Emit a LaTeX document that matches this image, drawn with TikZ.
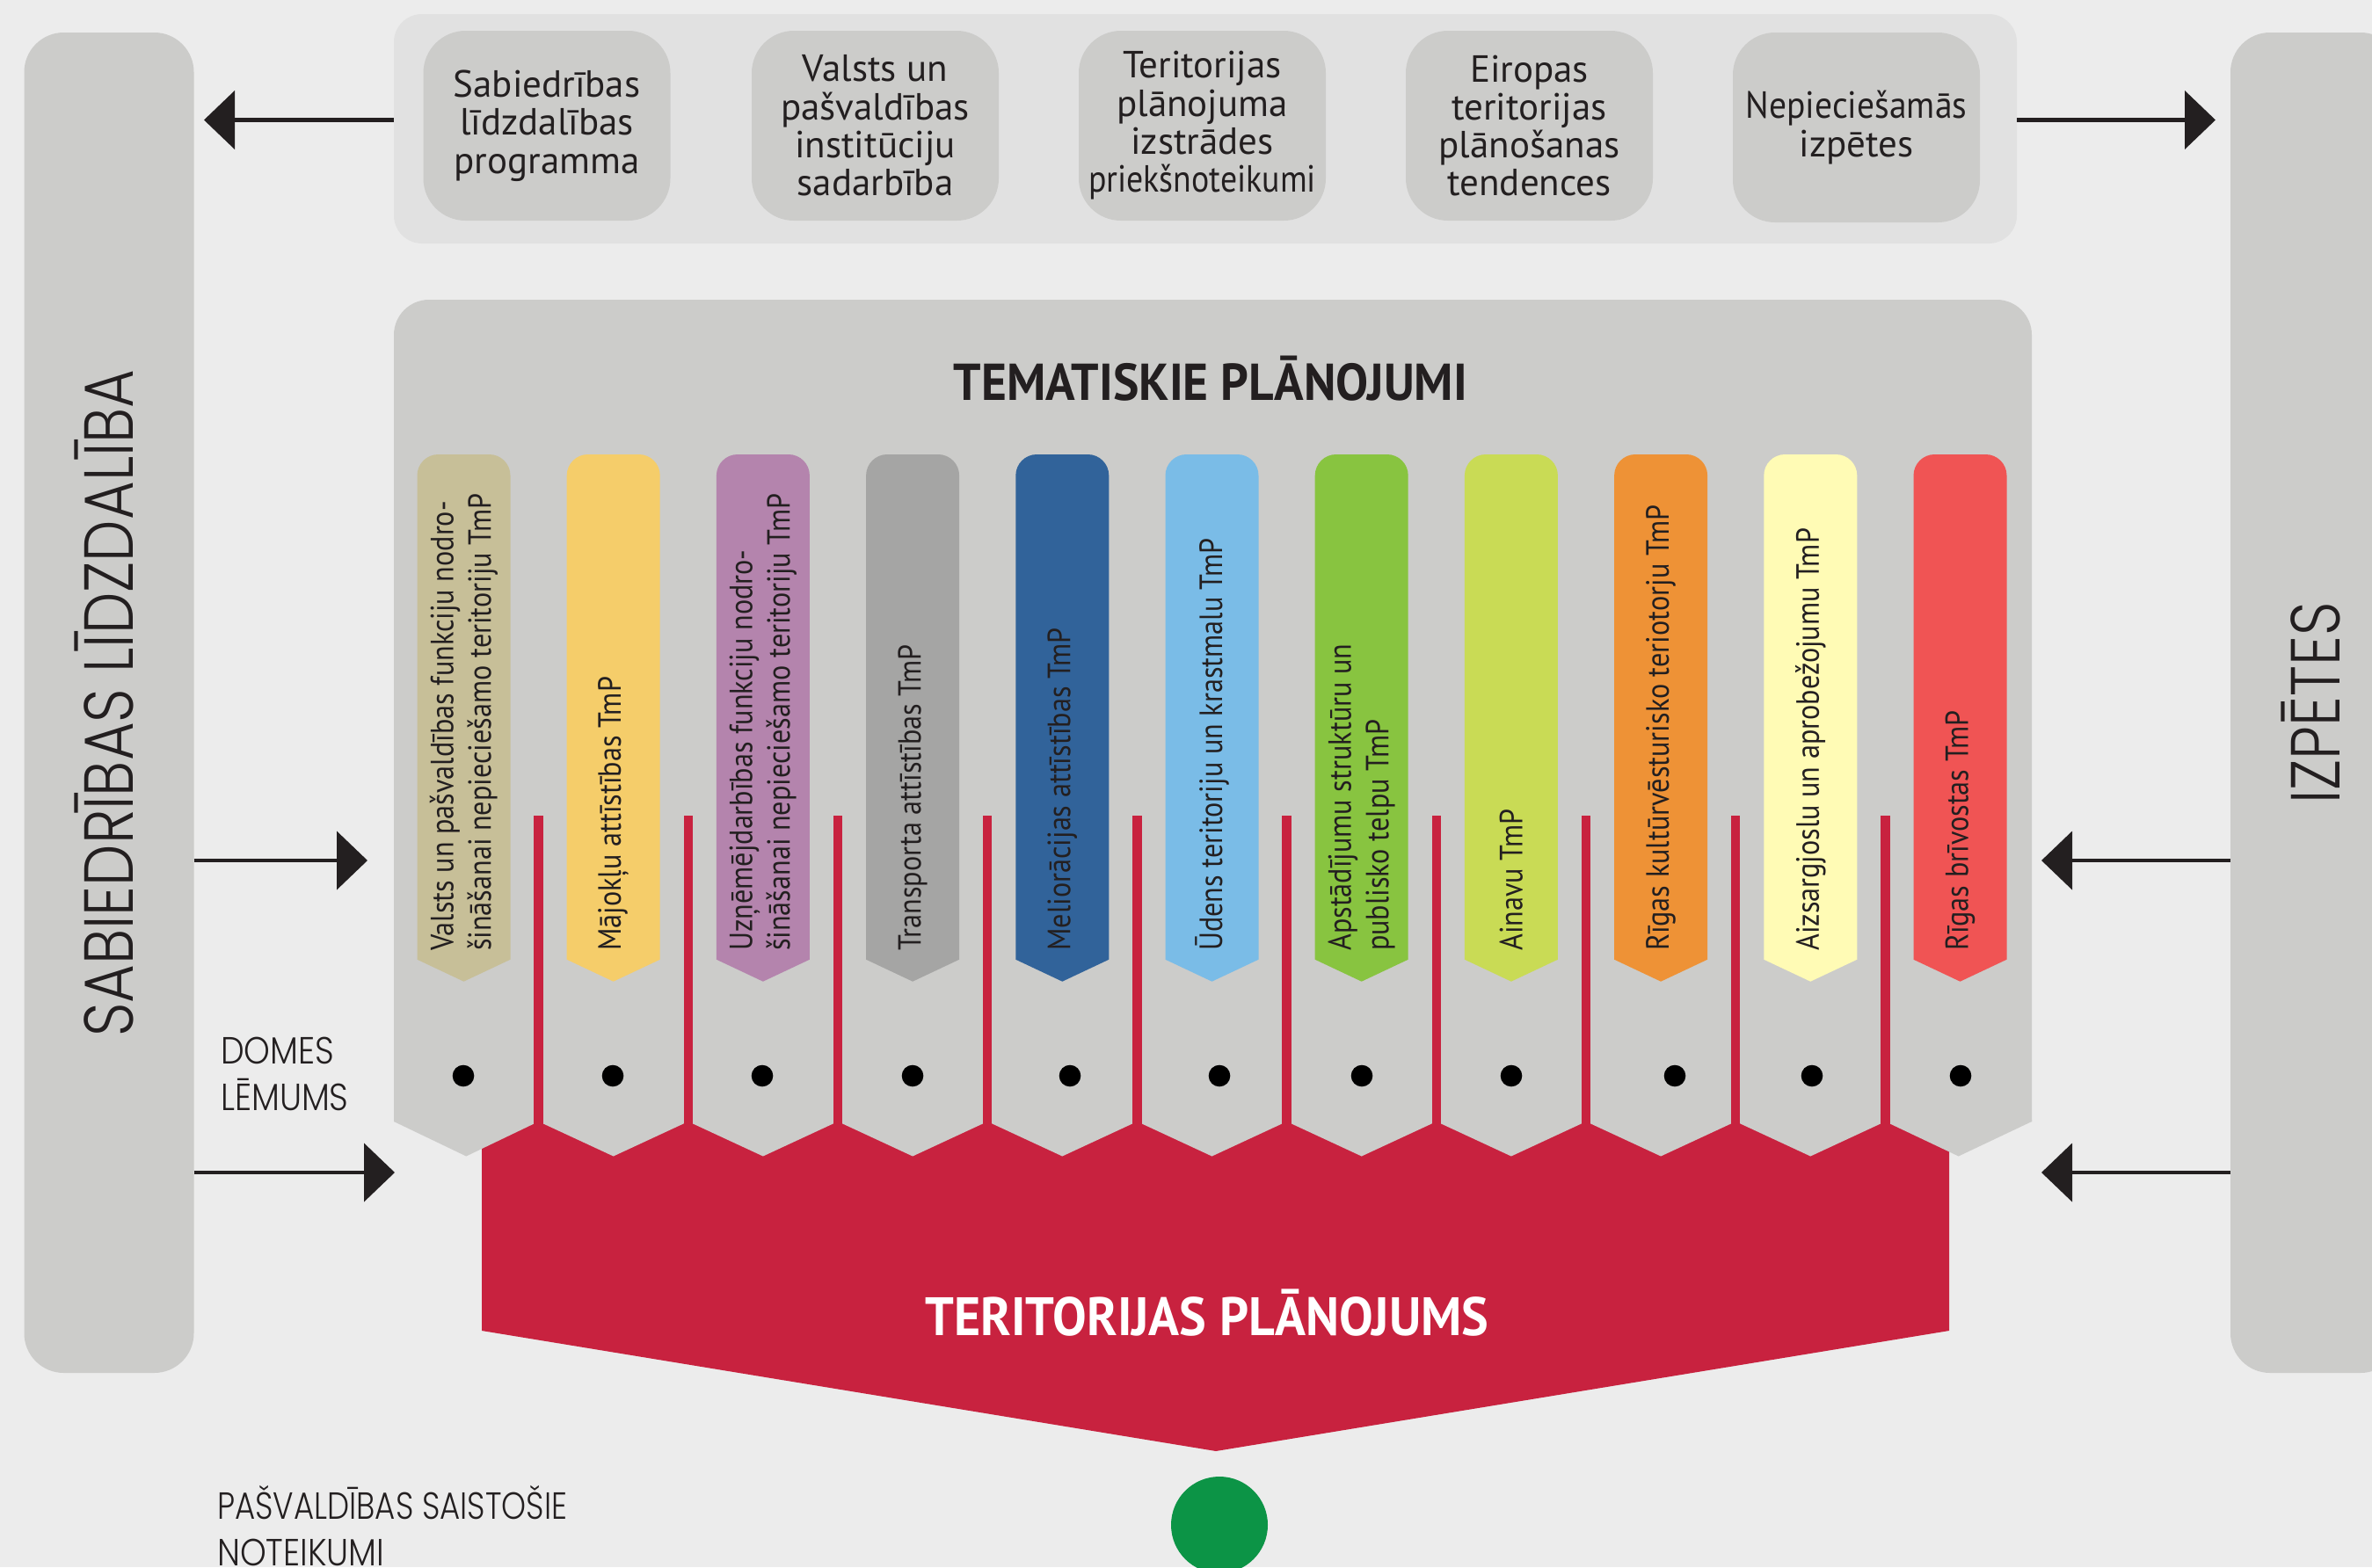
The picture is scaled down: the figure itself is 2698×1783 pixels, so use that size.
\documentclass[tikz,border=0pt]{standalone}
\usepackage{fontspec}
\setmainfont{PT Sans}
\newfontfamily\narrowfont{PT Sans}[FakeStretch=0.88]
\newfontfamily\headfont{PT Sans}[FakeStretch=0.94]
\newfontfamily\thinfont{Poppins Light}[FakeStretch=0.85]
\newfontfamily\smallthinfont{Poppins Light}[FakeStretch=0.88]
\usetikzlibrary{arrows.meta}

\definecolor{bgc}{HTML}{ECECEC}
\definecolor{panc}{HTML}{E1E1E1}
\definecolor{boxc}{HTML}{CCCCCA}
\definecolor{redc}{HTML}{C8223F}
\definecolor{greenc}{HTML}{0C9446}
\definecolor{inkc}{HTML}{231F20}
\definecolor{tabA}{HTML}{C7BF98}
\definecolor{tabB}{HTML}{F5CD6A}
\definecolor{tabC}{HTML}{B484AD}
\definecolor{tabD}{HTML}{A5A5A4}
\definecolor{tabE}{HTML}{31639A}
\definecolor{tabF}{HTML}{7ABCE7}
\definecolor{tabG}{HTML}{88C440}
\definecolor{tabH}{HTML}{C9DB55}
\definecolor{tabI}{HTML}{EE9236}
\definecolor{tabJ}{HTML}{FFFBB5}
\definecolor{tabK}{HTML}{F05454}

\tikzset{
  bar/.style={fill=boxc, rounded corners=45pt, minimum width=193pt, minimum height=1525pt, inner sep=0pt},
  topbox/.style={fill=boxc, rounded corners=48pt, minimum width=281pt, minimum height=216pt, inner sep=0pt,
    align=center, text=inkc, font=\fontsize{43}{43.3}\selectfont},
  tabtext/.style={rotate=90, anchor=west, align=left, inner sep=0pt, text=inkc,
    font=\narrowfont\fontsize{36.6}{42.7}\selectfont},
  biglbl/.style={rotate=90, anchor=base, inner sep=0pt, text=inkc, font=\thinfont\fontsize{79}{79}\selectfont},
  smalllbl/.style={anchor=north west, align=left, inner sep=0pt, text=inkc, font=\smallthinfont\fontsize{43}{53}\selectfont},
  flow/.style={->, line width=4.7pt, draw=inkc},
}

\begin{document}
\begin{tikzpicture}[x=1pt, y=-1pt, >={Triangle[length=35pt,width=66pt]}]
\clip (0,0) rectangle (2698,1783);
\fill[bgc] (0,0) rectangle (2698,1783);

\node[bar] (sab) at (124,799.5) {};
\node[bar] (izp) at (2633.5,799.5) {};
\node[biglbl] (sabtxt) at (151,800) {SABIEDRĪBAS LĪDZDALĪBA};
\node[biglbl] (izptxt) at (2661,800) {IZPĒTES};

\node[fill=panc, rounded corners=32pt, minimum width=1846pt, minimum height=261pt] (pan) at (1371,146.5) {};
\node[topbox] (T1) at (622,143) {Sabiedrības\\līdzdalības\\programma};
\node[topbox] (T2) at (995.5,143) {Valsts un\\pašvaldības\\institūciju\\sadarbība};
\node[topbox] (T3) at (1367.5,143) {Teritorijas\\plānojuma\\izstrādes\\\scalebox{0.88}[1]{priekšnoteikumi}};
\node[topbox] (T4) at (1739.5,143) {Eiropas\\teritorijas\\plānošanas\\tendences};
\node[topbox] (T5) at (2111.5,145) {\scalebox{0.92}[1]{Nepieciešamās}\\izpētes};

\fill[boxc] (448,1276) -- (448,700) [rounded corners=40pt] -- (448,341) -- (2311,341) -- (2311,700) [sharp corners] -- (2311,1276) -- cycle;
\fill[redc] (548,1276) -- (2217,1276) -- (2217,1514) -- (1383,1651) -- (548,1514) -- cycle;

\foreach \col/\txt [count=\n] in {
  tabA/{Valsts un pašvaldības funkciju nodro-\\šināšanai nepieciešamo teritoriju TmP},
  tabB/{Mājokļu attīstības TmP},
  tabC/{Uzņēmējdarbības funkciju nodro-\\šināšanai nepieciešamo teritoriju TmP},
  tabD/{Transporta attīstības TmP},
  tabE/{Meliorācijas attīstības TmP},
  tabF/{Ūdens teritoriju un krastmalu TmP},
  tabG/{Apstādījumu struktūru un\\publisko telpu TmP},
  tabH/{Ainavu TmP},
  tabI/{Rīgas kultūrvēsturisko teriotorju TmP},
  tabJ/{Aizsargjoslu un aprobežojumu TmP},
  tabK/{Rīgas brīvostas TmP}}
{
  \pgfmathsetmacro\cx{527.5+170.2*(\n-1)}
  \pgfmathsetmacro\lx{max(448,\cx-85.1)}
  \pgfmathsetmacro\rx{min(2311,\cx+85.1)}
  \fill[boxc] (\lx,1274) -- (\lx,1276) -- ({(\lx+\rx)/2},1315.5) -- (\rx,1276) -- (\rx,1274) -- cycle;
  \fill[\col] (\cx-53,1091.7) -- (\cx-53,800) [rounded corners=24pt] -- (\cx-53,517) -- (\cx+53,517)
    -- (\cx+53,800) [sharp corners] -- (\cx+53,1091.7) -- (\cx,1116.7) -- cycle;
  \node[tabtext] (tab\n) at (\cx,1082) {\txt};
}

\foreach \n in {1,...,10}
  \fill[redc] ({612.6+170.2*(\n-1)-5.2},928) rectangle ({612.6+170.2*(\n-1)+5.2},1290);

\foreach \x in {527,697,867,1038,1217,1387,1549,1719,1905,2061,2230}
  \fill (\x,1224) circle (12.3pt);

\node[anchor=base, inner sep=0pt, text=inkc, font=\headfont\bfseries\fontsize{59}{59}\selectfont] (tema) at (1377,455) {TEMATISKIE PLĀNOJUMI};
\node[anchor=base, inner sep=0pt, text=white, font=\headfont\bfseries\fontsize{61.5}{61.5}\selectfont] (terpl) at (1373,1519) {TERITORIJAS PLĀNOJUMS};
\fill[greenc] (1387,1735) circle (55pt);

\node[smalllbl] (domes) at (251,1180) {DOMES\\LĒMUMS};
\node[smalllbl] (saist) at (247,1690) {\scalebox{0.94}[1]{PAŠVALDĪBAS SAISTOŠIE}\\NOTEIKUMI};

\coordinate (la1) at (232,136.5);
\coordinate (ra1) at (2520,136.5);
\coordinate (la2) at (418,979);
\coordinate (la3) at (449,1334);
\coordinate (ra2) at (2322,979);
\coordinate (ra3) at (2322,1334);
\draw[flow] (la1 -| pan.west) -- (la1);
\draw[flow] (ra1 -| pan.east) -- (ra1);
\draw[flow] (la2 -| sab.east) -- (la2);
\draw[flow] (la3 -| sab.east) -- (la3);
\draw[flow] (ra2 -| izp.west) -- (ra2);
\draw[flow] (ra3 -| izp.west) -- (ra3);
\end{tikzpicture}
\end{document}
